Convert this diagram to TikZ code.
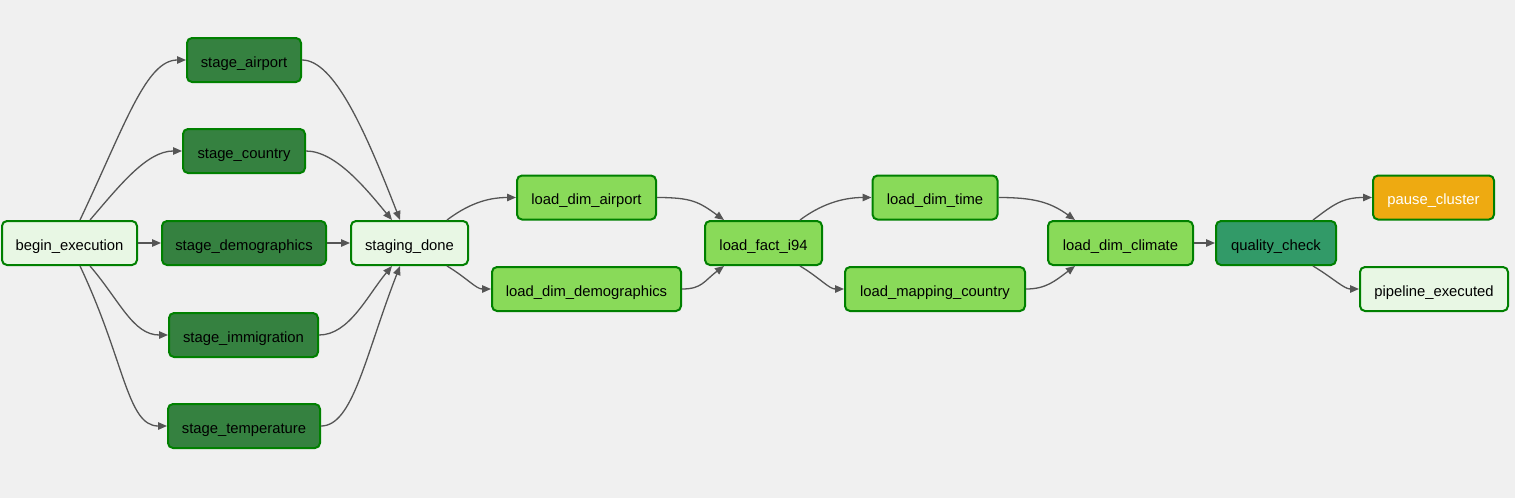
\documentclass[tikz,border=0pt]{standalone}
\usepackage{fontspec}
\setmainfont{Liberation Sans}
\usetikzlibrary{arrows.meta}
\definecolor{bgc}{HTML}{F0F0F0}
\definecolor{bord}{HTML}{008000}
\definecolor{dummy}{HTML}{E8F7E4}
\definecolor{stagec}{HTML}{358140}
\definecolor{loadc}{HTML}{89DA59}
\definecolor{qualc}{HTML}{329A68}
\definecolor{pausec}{HTML}{EEAA11}
\definecolor{edgec}{HTML}{555555}
\tikzset{
  task/.style={draw=bord, line width=2pt, rounded corners=5pt, minimum height=44pt,
    inner sep=0pt, text height=14pt, text depth=0pt,
    font=\fontsize{14.8}{17}\selectfont, text=black},
  dummyt/.style={task, fill=dummy},
  staget/.style={task, fill=stagec},
  loadt/.style={task, fill=loadc},
  qualt/.style={task, fill=qualc},
  pauset/.style={task, fill=pausec, text=white},
  edge/.style={draw=edgec, line width=1.3pt, -{Triangle[length=9pt,width=7.5pt]}}
}
\begin{document}
\begin{tikzpicture}[x=1pt,y=-1pt]
\fill[bgc] (0,0) rectangle (1515,498);
\useasboundingbox (0,0) rectangle (1515,498);

\node[dummyt, minimum width=135pt] (begin) at (69.5,243) {begin\_execution};
\node[staget, minimum width=114pt] (sair) at (244,60) {stage\_airport};
\node[staget, minimum width=122pt] (scty) at (244,151) {stage\_country};
\node[staget, minimum width=164pt] (sdem) at (244,243) {stage\_demographics};
\node[staget, minimum width=149pt] (simm) at (243.5,335) {stage\_immigration};
\node[staget, minimum width=152pt] (stmp) at (244,426) {stage\_temperature};
\node[dummyt, minimum width=117pt] (sdone) at (409.5,243) {staging\_done};
\node[loadt, minimum width=139pt] (lair) at (586.5,197.5) {load\_dim\_airport};
\node[loadt, minimum width=189pt] (ldem) at (586.5,289) {load\_dim\_demographics};
\node[loadt, minimum width=117pt] (fact) at (763.5,243) {load\_fact\_i94};
\node[loadt, minimum width=125pt] (ltime) at (935,197.5) {load\_dim\_time};
\node[loadt, minimum width=180pt] (lmap) at (935,289) {load\_mapping\_country};
\node[loadt, minimum width=145pt] (lclim) at (1120.5,243) {load\_dim\_climate};
\node[qualt, minimum width=120pt] (qc) at (1276,243) {quality\_check};
\node[pauset, minimum width=121pt] (pause) at (1433.5,197.5) {pause\_cluster};
\node[dummyt, minimum width=148pt] (pipe) at (1434,289) {pipeline\_executed};

% begin -> stages
\draw[edge] ([xshift=10.5pt]begin.north) .. controls +(45,-95) and +(-40,0) .. (sair.west);
\draw[edge] ([xshift=20.5pt]begin.north) .. controls +(30,-35) and +(-35,0) .. (scty.west);
\draw[edge] (begin.east) -- (sdem.west);
\draw[edge] ([xshift=20.5pt]begin.south) .. controls +(30,35) and +(-35,0) .. (simm.west);
\draw[edge] ([xshift=10.5pt]begin.south) .. controls +(45,95) and +(-40,0) .. (stmp.west);
% stages -> staging_done
\draw[edge] (sair.east) .. controls +(32,0) and +(-35,-90) .. ([xshift=-9.5pt]sdone.north);
\draw[edge] (scty.east) .. controls +(30,0) and +(-25,-30) .. ([xshift=-17.5pt]sdone.north);
\draw[edge] (sdem.east) -- (sdone.west);
\draw[edge] (simm.east) .. controls +(30,0) and +(-25,30) .. ([xshift=-17.5pt]sdone.south);
\draw[edge] (stmp.east) .. controls +(32,0) and +(-35,90) .. ([xshift=-9.5pt]sdone.south);
% staging_done -> dims
\draw[edge] ([xshift=37.5pt]sdone.north) .. controls +(20,-15) and +(-30,0) .. (lair.west);
\draw[edge] ([xshift=37.5pt]sdone.south) .. controls +(20,12) and +(-15,0) .. (ldem.west);
% dims -> fact
\draw[edge] (lair.east) .. controls +(35,0) and +(-25,-18) .. ([xshift=-39.5pt]fact.north);
\draw[edge] (ldem.east) .. controls +(20,0) and +(-20,15) .. ([xshift=-39.5pt]fact.south);
% fact -> next
\draw[edge] ([xshift=36.5pt]fact.north) .. controls +(20,-15) and +(-30,0) .. (ltime.west);
\draw[edge] ([xshift=36.5pt]fact.south) .. controls +(20,12) and +(-15,0) .. (lmap.west);
% -> climate
\draw[edge] (ltime.east) .. controls +(35,0) and +(-25,-18) .. ([xshift=-45.5pt]lclim.north);
\draw[edge] (lmap.east) .. controls +(20,0) and +(-20,15) .. ([xshift=-45.5pt]lclim.south);
\draw[edge] (lclim.east) -- (qc.west);
% quality -> end
\draw[edge] ([xshift=37pt]qc.north) .. controls +(20,-15) and +(-30,0) .. (pause.west);
\draw[edge] ([xshift=37pt]qc.south) .. controls +(20,12) and +(-15,0) .. (pipe.west);
\end{tikzpicture}
\end{document}
